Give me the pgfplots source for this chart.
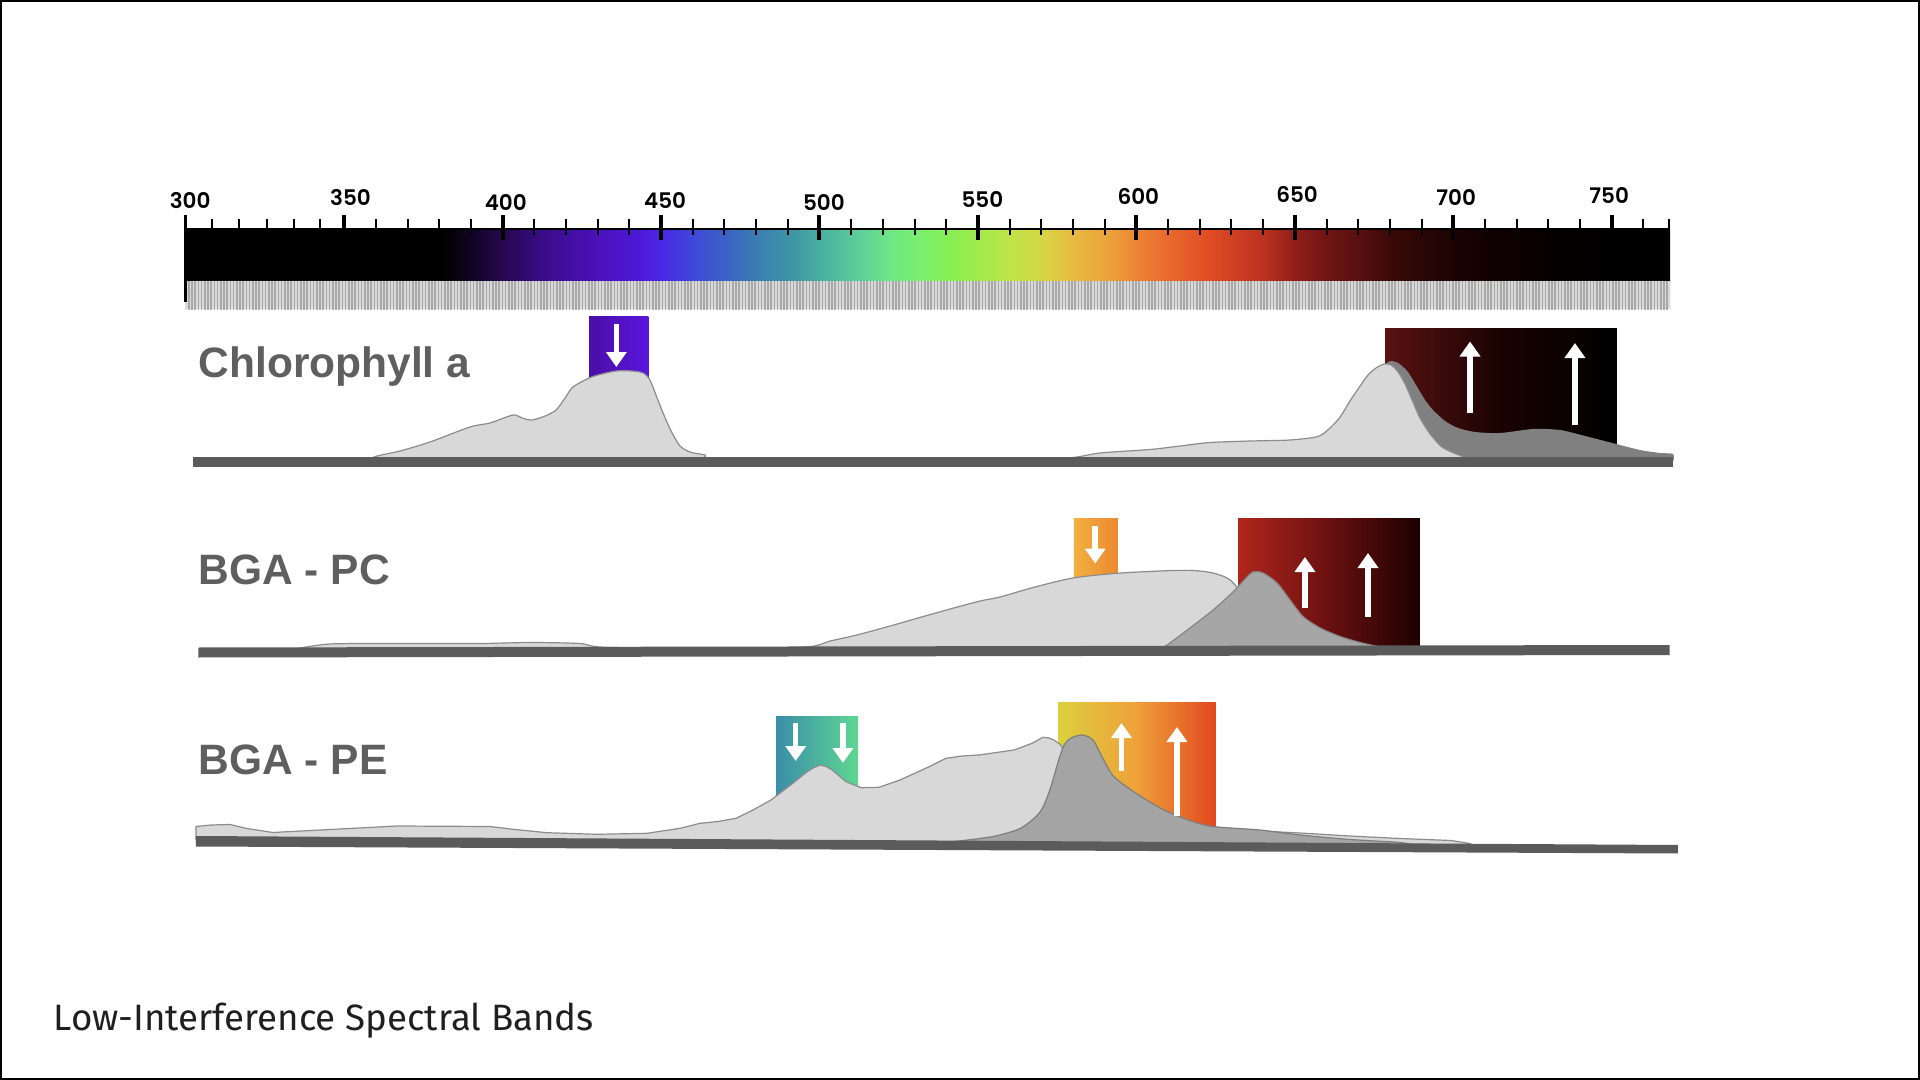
\documentclass[border=0pt]{standalone}
\usepackage{pgfplots}
\pgfplotsset{compat=1.18}
\usepackage{graphicx}
\usepackage{fontspec}
\usetikzlibrary{arrows.meta,patterns.meta}
\setmainfont{Liberation Sans}
\newfontfamily\tickfont{Poppins SemiBold}
\newfontfamily\titlefont{Fira Sans}

\definecolor{sp2}{HTML}{14052C}
\definecolor{sp3}{HTML}{280850}
\definecolor{sp4}{HTML}{3A0C8A}
\definecolor{sp5}{HTML}{4A10B8}
\definecolor{sp6}{HTML}{4E1AD8}
\definecolor{sp7}{HTML}{4A28E6}
\definecolor{sp8}{HTML}{3E48D8}
\definecolor{sp9}{HTML}{3A64C4}
\definecolor{sp10}{HTML}{3A80B0}
\definecolor{sp11}{HTML}{3E98A4}
\definecolor{sp12}{HTML}{4CB4A0}
\definecolor{sp13}{HTML}{5ED098}
\definecolor{sp14}{HTML}{70E884}
\definecolor{sp15}{HTML}{7CF068}
\definecolor{sp16}{HTML}{84F055}
\definecolor{sp17}{HTML}{A2EA4C}
\definecolor{sp18}{HTML}{BEE448}
\definecolor{sp19}{HTML}{D8D446}
\definecolor{sp20}{HTML}{E8B840}
\definecolor{sp21}{HTML}{ECA03A}
\definecolor{sp22}{HTML}{EC7E32}
\definecolor{sp23}{HTML}{E86A2E}
\definecolor{sp24}{HTML}{E04C24}
\definecolor{sp25}{HTML}{B83020}
\definecolor{sp26}{HTML}{901E18}
\definecolor{sp27}{HTML}{701414}
\definecolor{sp28}{HTML}{561010}
\definecolor{sp29}{HTML}{3A0808}
\definecolor{sp30}{HTML}{200404}
\definecolor{sp31}{HTML}{100000}
\definecolor{sp32}{HTML}{050000}

\definecolor{bandbg}{HTML}{DADADA}
\definecolor{bandline}{HTML}{A8A8A8}
\definecolor{lightfill}{HTML}{D8D8D8}
\definecolor{lightline}{HTML}{8C8C8C}
\definecolor{darkchl}{HTML}{808080}
\definecolor{darkpc}{HTML}{A6A6A6}
\definecolor{darkpcl}{HTML}{858585}
\definecolor{darkpe}{HTML}{A4A4A4}
\definecolor{darkpel}{HTML}{7E7E7E}
\definecolor{barcol}{HTML}{5B5B5B}
\definecolor{labcol}{HTML}{5F5F5F}
\definecolor{titlecol}{HTML}{1F1F1F}

\definecolor{chlA}{HTML}{4A0EA6}
\definecolor{chlB}{HTML}{5A16DE}
\definecolor{chrA}{HTML}{5A1212}
\definecolor{chrM}{HTML}{1A0202}
\definecolor{chrB}{HTML}{000000}
\definecolor{pcoA}{HTML}{F2B140}
\definecolor{pcoB}{HTML}{EC8830}
\definecolor{pcrA}{HTML}{B0261C}
\definecolor{pcrM}{HTML}{6A1010}
\definecolor{pcrB}{HTML}{1E0000}
\definecolor{petA}{HTML}{3A8EA8}
\definecolor{petB}{HTML}{5FD792}
\definecolor{peyA}{HTML}{DCD03E}
\definecolor{peyM}{HTML}{EFA03A}
\definecolor{peyB}{HTML}{E0481E}

\pgfdeclarehorizontalshading{spectrum}{100bp}{%
color(0bp)=(black); color(33.65bp)=(black);
color(34.82bp)=(sp2); color(35.73bp)=(sp3); color(37.06bp)=(sp4);
color(38.72bp)=(sp5); color(40.37bp)=(sp6); color(41.01bp)=(sp7);
color(42.08bp)=(sp8); color(43.25bp)=(sp9); color(44.32bp)=(sp10);
color(45.50bp)=(sp11); color(46.56bp)=(sp12); color(47.74bp)=(sp13);
color(48.80bp)=(sp14); color(49.98bp)=(sp15); color(50.62bp)=(sp16);
color(51.69bp)=(sp17); color(52.75bp)=(sp18); color(53.93bp)=(sp19);
color(55.00bp)=(sp20); color(56.17bp)=(sp21); color(57.24bp)=(sp22);
color(58.09bp)=(sp23); color(59.48bp)=(sp24); color(61.40bp)=(sp25);
color(62.36bp)=(sp26); color(63.43bp)=(sp27); color(64.60bp)=(sp28);
color(65.67bp)=(sp29); color(67.38bp)=(sp30); color(69.08bp)=(sp31);
color(71.33bp)=(sp32); color(73.03bp)=(black); color(100bp)=(black)}

\newcommand\tlf{\tickfont\fontsize{21.5}{25}\selectfont}
\newcommand\lbf{\bfseries\fontsize{42.5}{48}\selectfont\color{labcol}}
\tikzset{arr/.style={white,line width=5.5pt,-{Triangle[length=15pt,width=20pt]}},
  curve/.style={smooth,tension=0.45}}

\begin{document}
\begin{tikzpicture}
\begin{axis}[width=1920pt,height=1080pt,scale only axis,
  xmin=241.40,xmax=847.29,ymin=0,ymax=1080,y dir=reverse,
  hide axis,clip=false]

% background
\addplot[draw=none,fill=white] coordinates {(241.40,0)(847.29,0)(847.29,1080)(241.40,1080)};

% ---------- wavelength ruler ----------
\addplot[draw=none,shade,shading=spectrum] coordinates {(300,229)(768.4,229)(768.4,281)(300,281)};
\addplot[draw=none,fill=bandbg] coordinates {(300,281)(768.4,281)(768.4,309)(300,309)};
\addplot[draw=none,pattern={Lines[angle=90,distance=3.2pt,line width=1.5pt]},pattern color=bandline]
  coordinates {(300,281)(768.4,281)(768.4,309)(300,309)};
\addplot[black,line width=2.5pt] coordinates {(300,229)(768.4,229)};
\addplot[black,line width=3.5pt] coordinates {(300,215)(300,302)};
\pgfplotsinvokeforeach{308.2,316.9,325.6,334.3,342.4}{\addplot[black,line width=2pt] coordinates {(#1,219)(#1,235)};}
\pgfplotsinvokeforeach{360,370,...,760}{\addplot[black,line width=2pt] coordinates {(#1,219)(#1,235)};}
\addplot[black,line width=2pt] coordinates {(768.0,219)(768.0,235)};
\pgfplotsinvokeforeach{350,400,...,750}{\addplot[black,line width=4pt] coordinates {(#1,215)(#1,240)};}

\node[font=\tlf] at (axis cs:301.4,200.5) {300};
\node[font=\tlf] at (axis cs:352.0,197.5) {350};
\node[font=\tlf] at (axis cs:401.0,202.5) {400};
\node[font=\tlf] at (axis cs:451.3,201) {450};
\node[font=\tlf] at (axis cs:501.4,202.5) {500};
\node[font=\tlf] at (axis cs:551.4,200) {550};
\node[font=\tlf] at (axis cs:600.6,196.5) {600};
\node[font=\tlf] at (axis cs:650.7,194.5) {650};
\node[font=\tlf] at (axis cs:700.9,197.5) {700};
\node[font=\tlf] at (axis cs:749.2,195.5) {750};

% ---------- Chlorophyll a ----------
\addplot[draw=none,left color=chlA,right color=chlB] coordinates {(427.3,316)(446.0,316)(446.0,458)(427.3,458)};
\addplot[draw=none,left color=chrA,right color=chrB,middle color=chrM] coordinates {(678.5,328)(751.6,328)(751.6,458)(678.5,458)};
\addplot[draw=none,fill=darkchl,curve] coordinates {
(664.3,462)(667.4,430)(670.6,410)(673.7,398)(676.5,380)(679.4,362)(682.6,363)(685.7,372)
(688.6,387)(691.1,400)(693.6,410)(697.4,421)(701.5,428)(706.9,432)(714.8,433)(725.2,429)
(733.7,430)(741.6,436)(751.4,444)(758.9,450)(765.3,453)(769.4,454)(769.4,462)};
\addplot[fill=lightfill,draw=lightline,line width=1.2pt,curve] coordinates {
(358.2,459)(360.4,456)(367.6,451)(377.1,442)(389.7,427)(396.0,423)(403.3,415)(406.1,418)
(409.3,420)(413.4,416)(416.9,410)(419.7,398)(422.2,387)(427.3,378)(430.7,374.5)(435.8,371)
(440.8,371)(444.3,373)(446.5,380)(449.0,400)(451.3,418)(453.5,433)(456.0,446)(459.1,452)
(463.9,455)(468.0,459)(520,459.5)(573.7,459)(588.5,453)(604.3,449.5)(613.8,446)(623.2,442.5)(635.9,441)
(648.5,440)(657.3,436.5)(661.1,428)(664.3,417)(667.4,401)(670.6,386)(673.1,375)(675.6,368)
(678.2,364)(680.4,365)(682.6,372)(684.8,384)(687.0,400)(689.5,418)(692.7,434)(696.4,447)
(700.9,454)(705.3,459)};
\addplot[draw=none,fill=barcol] coordinates {(302.3,457)(769.4,457)(769.4,467)(302.3,467)};
\addplot[arr] coordinates {(435.9,324)(435.9,367)};
\addplot[arr] coordinates {(705.3,413)(705.3,341.5)};
\addplot[arr] coordinates {(738.4,425)(738.4,343)};
\node[anchor=base west,inner sep=0pt,font=\lbf] at (axis cs:304.0,377) {Chlorophyll a};

% ---------- BGA - PC ----------
\addplot[draw=none,left color=pcoA,right color=pcoB] coordinates {(580.3,518)(594.2,518)(594.2,647)(580.3,647)};
\addplot[draw=none,left color=pcrA,right color=pcrB,middle color=pcrM] coordinates {(632.1,518)(689.5,518)(689.5,646)(632.1,646)};
\addplot[fill=lightfill,draw=lightline,line width=1.2pt,curve] coordinates {
(334.5,649)(345.5,644)(367.6,643.5)(392.9,643.5)(408.7,642.5)(424.4,643.5)(434.5,647.5)(492.6,647.5)
(503.3,641)(511.8,635)(522.3,626)(531.1,618)(541.2,609)(550.7,601)(557.0,597)(567.4,587.5)
(580.0,578)(593.9,573.3)(609.7,570.7)(617.9,570.5)(624.2,573)(629.6,580)(634.3,600)(639.0,650)};
\addplot[fill=darkpc,draw=darkpcl,line width=1.2pt,curve] coordinates {
(607.5,648)(609.7,645)(616.9,628)(624.2,610)(630.5,592)(634.3,579)(636.8,572)
(640.0,573)(644.4,583)(648.5,600)(652.6,616.5)(658.0,628)(664.3,636.5)(670.6,642.5)(676.9,647)};
\addplot[draw=none,fill=barcol] coordinates {(304.0,647.5)(768.3,645)(768.3,655)(304.0,657.5)};
\addplot[arr] coordinates {(587.0,526)(587.0,563.5)};
\addplot[arr] coordinates {(653.2,608)(653.2,557)};
\addplot[arr] coordinates {(673.1,616.5)(673.1,553)};
\node[anchor=base west,inner sep=0pt,font=\lbf] at (axis cs:304.0,584) {BGA - PC};

% ---------- BGA - PE ----------
\addplot[draw=none,left color=petA,right color=petB] coordinates {(486.3,716)(512.2,716)(512.2,840)(486.3,840)};
\addplot[draw=none,left color=peyA,right color=peyB,middle color=peyM] coordinates {(575.3,702)(625.1,702)(625.1,842)(575.3,842)};
\addplot[fill=lightfill,draw=lightline,line width=1.2pt] coordinates {
(303.25,840)(303.25,826.5)(308,825)(314.0,824.5)(319.3,828.5)(327.5,832.5)(345.5,829.5)(366.7,826)(396.0,826.5)
(403.3,829.3)(414.0,832.7)(429.8,834.3)(445.6,833.3)(456.0,828.3)(462.3,823.3)(468,821.5)(473.7,818.3)(479,810)(484.7,800)
(491.6,783.3)(496.1,771.7)(498.3,767.5)(500.2,765)(502.1,766.5)(504.0,770)(508.4,781.7)(513.1,787.7)(518.8,787.3)(525.4,780)
(534.6,766.7)(539.9,758.3)(545,756)(550.3,755)(561.4,750)(567.1,743.3)(570.5,737.3)(572.2,737.8)(574.0,740)(576.2,745)
(578.4,760)(580.6,800)(583.8,830)(620.1,826)(639.0,831)(651.6,833)(667.4,836)(683.2,838.5)
(699.3,840.5)(705.3,843.5)(705.3,847)(303.25,842)};
\addplot[fill=darkpe,draw=darkpel,line width=1.2pt,curve] coordinates {
(541.2,842)(554.8,836.5)(563.6,828)(569.6,812)(572.7,790)(575.3,762)(577.2,745)(579.4,738)
(582.9,735)(586.3,740)(589.7,760)(592.9,776.7)(599.9,793.3)(608.7,810)
(617.9,821.7)(624.5,826.7)(639.0,830)(651.6,835)(667.4,839.5)(683.2,842.5)(689.5,846)};
\addplot[draw=none,fill=barcol] coordinates {(303.25,836)(770.9,845)(770.9,853.5)(303.25,846.5)};
\addplot[arr] coordinates {(492.5,723)(492.5,761)};
\addplot[arr] coordinates {(507.4,723)(507.4,763)};
\addplot[arr] coordinates {(595.3,771)(595.3,723)};
\addplot[arr] coordinates {(612.8,816)(612.8,727)};
\node[anchor=base west,inner sep=0pt,font=\lbf] at (axis cs:304.0,774) {BGA - PE};

% ---------- title and frame ----------
\node[anchor=base west,inner sep=0pt,text=titlecol] at (axis cs:258.3,1030)
  {\resizebox{540pt}{!}{\titlefont Low-Interference Spectral Bands}};
\draw[black,line width=2pt] (axis cs:241.72,1) rectangle (axis cs:846.97,1079);

\end{axis}
\end{tikzpicture}
\end{document}
